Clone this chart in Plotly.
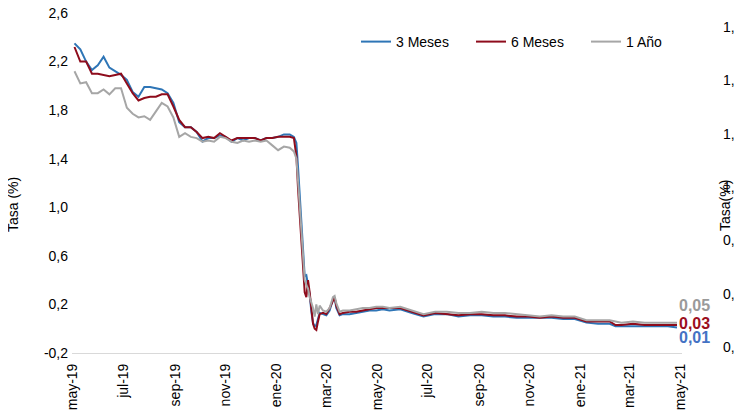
import plotly.graph_objects as go

# ---------------- data ----------------
dates = [
    "2019-05-03", "2019-05-10", "2019-05-17", "2019-05-24", "2019-05-31",
    "2019-06-07", "2019-06-14", "2019-06-21", "2019-06-28",
    "2019-07-05", "2019-07-12", "2019-07-19", "2019-07-26",
    "2019-08-02", "2019-08-09", "2019-08-16", "2019-08-23", "2019-08-30",
    "2019-09-06", "2019-09-13", "2019-09-20", "2019-09-27",
    "2019-10-04", "2019-10-11", "2019-10-18", "2019-10-25",
    "2019-11-01", "2019-11-08", "2019-11-15", "2019-11-22", "2019-11-29",
    "2019-12-06", "2019-12-13", "2019-12-20", "2019-12-27",
    "2020-01-03", "2020-01-10", "2020-01-17",
    "2020-01-22", "2020-01-25", "2020-01-27", "2020-01-29", "2020-01-31",
    "2020-02-02", "2020-02-04", "2020-02-06", "2020-02-08", "2020-02-10",
    "2020-02-12", "2020-02-14", "2020-02-16", "2020-02-18", "2020-02-20",
    "2020-02-22", "2020-02-26", "2020-03-01", "2020-03-05", "2020-03-09",
    "2020-03-11", "2020-03-13", "2020-03-17", "2020-03-21", "2020-03-29",
    "2020-04-06", "2020-04-14", "2020-04-22", "2020-04-30", "2020-05-08", "2020-05-16",
    "2020-05-29", "2020-06-12", "2020-06-26", "2020-07-10", "2020-07-24",
    "2020-08-07", "2020-08-21", "2020-09-04", "2020-09-18", "2020-10-02",
    "2020-10-16", "2020-10-30", "2020-11-13", "2020-11-27", "2020-12-11",
    "2020-12-25", "2021-01-08", "2021-01-22", "2021-02-05", "2021-02-12",
    "2021-02-19", "2021-03-05", "2021-03-19", "2021-04-02", "2021-04-16", "2021-04-27",
]

tasa_3m = [
    2.35, 2.30, 2.20, 2.13, 2.17, 2.24, 2.15, 2.12, 2.09, 2.05, 1.95, 1.91, 1.99,
    1.99, 1.98, 1.97, 1.94, 1.86, 1.70, 1.66, 1.66, 1.62, 1.54, 1.57, 1.57, 1.59,
    1.58, 1.54, 1.57, 1.55, 1.57, 1.57, 1.55, 1.57, 1.57, 1.58, 1.60, 1.60,
    1.58, 1.53, 1.33, 1.12, 0.90, 0.65, 0.43, 0.44, 0.36, 0.28, 0.14, 0.05, 0.02,
    0.03, 0.08, 0.13, 0.12, 0.11, 0.15, 0.24, 0.26, 0.17, 0.11, 0.12, 0.12, 0.13,
    0.14, 0.15, 0.15, 0.16, 0.15,
    0.16, 0.13, 0.10, 0.12, 0.12, 0.10, 0.11, 0.11, 0.10, 0.10, 0.09, 0.09, 0.09,
    0.09, 0.08, 0.08, 0.05, 0.04, 0.04, 0.02, 0.02, 0.02, 0.02, 0.02, 0.02, 0.01,
]

tasa_6m = [
    2.32, 2.20, 2.20, 2.10, 2.10, 2.09, 2.08, 2.09, 2.10, 2.02, 1.94, 1.88, 1.90,
    1.91, 1.91, 1.93, 1.93, 1.83, 1.72, 1.66, 1.66, 1.62, 1.57, 1.58, 1.57, 1.61,
    1.58, 1.55, 1.57, 1.57, 1.57, 1.57, 1.55, 1.57, 1.57, 1.58, 1.58, 1.58,
    1.57, 1.42, 1.15, 0.92, 0.70, 0.50, 0.30, 0.26, 0.40, 0.30, 0.16, 0.04, 0.00,
    -0.01, 0.06, 0.12, 0.13, 0.12, 0.17, 0.24, 0.26, 0.19, 0.12, 0.13, 0.14, 0.14,
    0.15, 0.16, 0.17, 0.17, 0.17,
    0.17, 0.14, 0.11, 0.13, 0.12, 0.11, 0.12, 0.12, 0.11, 0.11, 0.10, 0.10, 0.09,
    0.10, 0.09, 0.09, 0.06, 0.06, 0.06, 0.03, 0.03, 0.04, 0.03, 0.03, 0.03, 0.03,
]

tasa_1a = [
    2.12, 2.02, 2.03, 1.94, 1.94, 1.97, 1.93, 1.98, 1.98, 1.82, 1.77, 1.74, 1.75,
    1.72, 1.79, 1.86, 1.83, 1.74, 1.58, 1.61, 1.58, 1.57, 1.54, 1.55, 1.54, 1.58,
    1.57, 1.54, 1.53, 1.55, 1.54, 1.55, 1.54, 1.55, 1.51, 1.47, 1.50, 1.49,
    1.46, 1.40, 1.22, 1.00, 0.80, 0.58, 0.40, 0.36, 0.33, 0.26, 0.22, 0.17, 0.10,
    0.20, 0.12, 0.19, 0.15, 0.14, 0.17, 0.26, 0.27, 0.21, 0.14, 0.15, 0.15, 0.16,
    0.17, 0.17, 0.18, 0.18, 0.17,
    0.18, 0.15, 0.12, 0.14, 0.14, 0.13, 0.13, 0.14, 0.13, 0.13, 0.12, 0.11, 0.10,
    0.11, 0.10, 0.10, 0.07, 0.07, 0.07, 0.06, 0.05, 0.06, 0.05, 0.05, 0.05, 0.05,
]

series_names = ["3 Meses", "6 Meses", "1 Año"]
end_labels = ["0,01", "0,03", "0,05"]

x_tick_vals = ["2019-05-01", "2019-07-01", "2019-09-01", "2019-11-01", "2020-01-01",
               "2020-03-01", "2020-05-01", "2020-07-01", "2020-09-01", "2020-11-01",
               "2021-01-01", "2021-03-01", "2021-05-01"]
x_tick_text = ["may-19", "jul-19", "sep-19", "nov-19", "ene-20", "mar-20", "may-20",
               "jul-20", "sep-20", "nov-20", "ene-21", "mar-21", "may-21"]

y_tick_vals = [-0.2, 0.2, 0.6, 1.0, 1.4, 1.8, 2.2, 2.6]
y_tick_text = ["-0,2", "0,2", "0,6", "1,0", "1,4", "1,8", "2,2", "2,6"]

y2_tick_vals = [0.4, 0.6, 0.8, 1.0, 1.2, 1.4, 1.6]
y2_tick_text = ["0,4", "0,6", "0,8", "1,0", "1,2", "1,4", "1,6"]

# ---------------- styling ----------------
line_colors = ["#2E75B6", "#8E0C1C", "#A6A6A6"]
label_colors = ["#4472C4", "#9C0E20", "#9A9A9A"]
label_yshift = [-10, 2, 17]
FONT = "Liberation Sans, Arial, sans-serif"

# the page body has an 8px margin, so the figure is drawn 8px in from the window edge
W, H = 734, 406
ML, MR, MT, MB = 64, 12, 5, 61
paper_w = W - ML - MR          # 658
plot_w = 610
x_dom_end = plot_w / paper_w
plot_h = H - MT - MB           # 340

fig = go.Figure()
for name, vals, col in zip(series_names, [tasa_3m, tasa_6m, tasa_1a], line_colors):
    fig.add_trace(go.Scatter(x=dates, y=vals, mode="lines", name=name,
                             line=dict(color=col, width=2), hoverinfo="skip"))

# secondary axis (right, mostly cut off)
fig.add_trace(go.Scatter(x=[dates[0]], y=[None], yaxis="y2", mode="lines",
                         showlegend=False, hoverinfo="skip"))

annotations = []
for vals, txt, col, ys in zip([tasa_3m, tasa_6m, tasa_1a], end_labels, label_colors, label_yshift):
    annotations.append(dict(x=dates[-1], y=vals[-1], xref="x", yref="y", text="<b>%s</b>" % txt,
                            showarrow=False, xanchor="left", yanchor="middle", xshift=0, yshift=ys,
                            font=dict(family=FONT, size=16, color=col)))

# positions below are measured relative to the plot area (left=72, top=13 in the window)
annotations.append(dict(x=(13 - 72) / paper_w, y=(353 - 205) / plot_h, xref="paper", yref="paper",
                        text="Tasa (%)", textangle=-90, showarrow=False,
                        xanchor="center", yanchor="middle",
                        font=dict(family=FONT, size=14, color="#000000")))
annotations.append(dict(x=(725 - 72) / paper_w, y=(353 - 206) / plot_h, xref="paper", yref="paper",
                        text="Tasa(%)", textangle=-90, showarrow=False,
                        xanchor="center", yanchor="middle",
                        font=dict(family=FONT, size=14, color="#000000")))

fig.update_layout(
    width=W, height=H,
    margin=dict(l=ML, r=MR, t=MT, b=MB, pad=0, autoexpand=False),
    paper_bgcolor="white", plot_bgcolor="white",
    font=dict(family=FONT, size=14, color="#000000"),
    showlegend=True,
    legend=dict(orientation="h", x=(356 - 72) / paper_w, xanchor="left",
                y=(353 - 42) / plot_h, yanchor="middle",
                font=dict(family=FONT, size=14, color="#000000"),
                entrywidth=70, bgcolor="rgba(0,0,0,0)", borderwidth=0),
    xaxis=dict(type="date", domain=[0, x_dom_end], automargin=False,
               range=["2019-04-30", "2021-05-03"],
               tickvals=x_tick_vals, ticktext=x_tick_text, tickangle=-90,
               showgrid=False, zeroline=False,
               showline=True, linecolor="#D9D9D9", linewidth=1,
               ticks="", ticklabelstandoff=4, ticklabeloverflow="allow",
               tickfont=dict(family=FONT, size=14, color="#000000")),
    yaxis=dict(range=[-0.2, 2.6], tickvals=y_tick_vals, ticktext=y_tick_text,
               automargin=False,
               showgrid=False, zeroline=False, showline=False,
               ticks="", ticklabelstandoff=3, ticklabeloverflow="allow",
               tickfont=dict(family=FONT, size=14, color="#000000")),
    yaxis2=dict(overlaying="y", side="right", anchor="free", position=(722 - 72) / paper_w,
                automargin=False, ticklabeloverflow="allow",
                range=[0.3775, 1.6525], tickvals=y2_tick_vals, ticktext=y2_tick_text,
                showgrid=False, zeroline=False, showline=False, ticks="",
                tickfont=dict(family=FONT, size=14, color="#000000")),
    annotations=annotations,
)

fig.write_html("out.html", config={"displayModeBar": False})
